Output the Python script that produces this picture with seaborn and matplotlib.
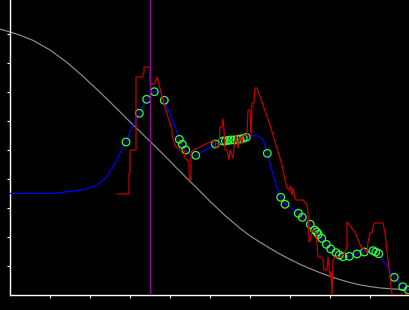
import numpy as np
import pandas as pd
import matplotlib
matplotlib.use("Agg")
import matplotlib.pyplot as plt
import seaborn as sns

# Gray reference curve
ref_x = [-0.25, 0, 0.25, 0.575, 1.0, 1.425, 1.825, 2.25, 2.675, 3.075, 3.5, 3.875, 4.2,
         4.625, 5.0, 5.375, 5.75, 6.0, 6.25, 6.5, 6.75, 7.0, 7.25, 7.5, 7.75, 8.0,
         8.25, 8.5, 8.75, 9.0, 9.25, 9.5, 9.75, 10.0]
ref_y = [9.17, 9.07, 8.96, 8.78, 8.45, 8.02, 7.54, 6.99, 6.42, 5.87, 5.30, 4.79, 4.33,
         3.75, 3.23, 2.74, 2.30, 2.04, 1.82, 1.61, 1.41, 1.23, 1.06, 0.91, 0.77, 0.64,
         0.53, 0.43, 0.35, 0.29, 0.245, 0.215, 0.195, 0.18]

# Blue fitted curve
fit_x = [0, 1.125, 1.4175, 1.6675, 1.875, 2.0425, 2.1675, 2.2925, 2.4175, 2.5, 2.5875, 2.6675,
         2.75, 2.8325, 2.9, 3.0, 3.125,
         3.2325, 3.4175, 3.5, 3.6075, 3.7, 3.775, 3.8575, 4.0, 4.125, 4.2325, 4.3075, 4.3925,
         4.475, 4.55, 4.6425, 4.875, 5.1325, 5.3175, 5.3825, 5.4575, 5.525, 5.6, 5.6825, 5.75,
         5.8325, 5.9075, 6.025, 6.15, 6.25, 6.3325, 6.4325, 6.5425, 6.65, 6.7675, 6.875, 7.025,
         7.2075, 7.3075, 7.4, 7.5075, 7.6175, 7.6675, 7.7075, 7.7925, 7.9075, 8.0175, 8.15,
         8.2325, 8.325, 8.4825, 8.675, 8.8575, 9.075, 9.1425, 9.2175, 9.4, 9.6075, 9.8175,
         9.9575, 10.05]
fit_y = [3.500, 3.507, 3.562, 3.597, 3.645, 3.714, 3.793, 3.907, 4.079, 4.252, 4.448, 4.655,
         4.879, 5.114, 5.276, 5.631, 5.976,
         6.266, 6.748, 6.931, 7.010, 7.034, 6.931, 6.714, 6.241, 5.793, 5.369,
         5.197, 5.0, 4.862, 4.793, 4.817, 5.0, 5.207, 5.310, 5.310, 5.334, 5.345, 5.345, 5.369,
         5.379, 5.403, 5.438, 5.5, 5.493, 5.448, 5.345, 4.886, 4.310, 3.793, 3.369, 3.128, 3.0,
         2.817, 2.679, 2.552, 2.438, 2.241, 2.172, 2.093, 1.955, 1.748, 1.586, 1.459, 1.379,
         1.321, 1.334, 1.414, 1.483, 1.528, 1.483, 1.424, 1.034, 0.610, 0.286, 0.172, 0.103]

# Green observation points
obs_x = [2.9, 3.2325, 3.4175, 3.6075, 3.8575, 4.2325, 4.3075, 4.3925, 4.6425, 5.1325, 5.3175,
         5.3825, 5.4575, 5.525, 5.6, 5.6825, 5.75, 5.8325, 5.9075, 6.4325, 6.7675, 6.875,
         7.2075, 7.3075, 7.5075, 7.6175, 7.6675, 7.7075, 7.7925, 7.9075, 8.0175, 8.15, 8.2325,
         8.325, 8.4825, 8.675, 8.8575, 9.075, 9.1425, 9.2175, 9.6075, 9.8175, 9.9575]
obs_y = [5.276, 6.266, 6.748, 7.010, 6.714, 5.369, 5.197, 5.0, 4.817, 5.207, 5.310, 5.310,
         5.334, 5.345, 5.345, 5.369, 5.379, 5.403, 5.438, 4.886, 3.369, 3.128, 2.817, 2.679,
         2.438, 2.241, 2.172, 2.093, 1.955, 1.748, 1.586, 1.459, 1.379, 1.321, 1.334, 1.414,
         1.483, 1.528, 1.483, 1.424, 0.610, 0.286, 0.172]

# Red raw step series
raw_x = [2.675, 2.975, 2.975, 3.0, 3.0, 3.15, 3.15, 3.325, 3.325, 3.35, 3.35, 3.5, 3.5, 3.625,
         3.675, 3.825, 3.95, 4.05, 4.05, 4.125, 4.25, 4.35, 4.375, 4.475, 4.475, 4.5, 4.525,
         4.525, 4.55, 5.05, 5.125, 5.15, 5.225, 5.25, 5.3, 5.325, 5.35, 5.375, 5.425, 5.475,
         5.5, 5.575, 5.6, 5.65, 5.7, 5.75, 5.8, 5.825, 5.925, 5.95, 6.0, 6.025, 6.05, 6.1,
         6.125, 6.175, 6.5, 6.8, 6.875, 6.925, 6.975, 7.0, 7.05, 7.075, 7.125, 7.15, 7.325,
         7.425, 7.45, 7.475, 7.5, 7.55, 7.65, 7.7, 7.775, 7.825, 7.85, 7.925, 7.95, 8.0,
         8.025, 8.05, 8.075, 8.125, 8.25, 8.375, 8.425, 8.425, 8.625, 8.775, 8.875, 8.925,
         8.95, 9.0, 9.05, 9.1, 9.325, 9.375, 9.5, 9.55, 10.0]
raw_y = [3.483, 3.483, 4.207, 4.207, 5.0, 5.0, 7.517, 7.517, 7.655, 7.655, 7.862, 7.862,
         7.276, 7.276, 7.517, 6.724, 6.138, 5.690, 5.517, 5.138, 5.0, 5.0, 4.724, 4.586,
         4.310, 3.966, 3.966, 4.931, 4.966, 5.310, 5.310, 5.103, 5.103, 5.793, 5.793, 6.069,
         5.690, 5.0, 5.0, 4.655, 5.0, 4.724, 5.103, 5.517, 5.069, 5.448, 5.207, 5.517, 5.517,
         6.379, 6.379, 5.483, 6.621, 6.621, 7.138, 7.138, 5.862, 4.483, 3.966, 3.690, 3.621,
         3.759, 3.448, 3.690, 3.345, 3.276, 3.276, 3.103, 2.828, 1.828, 1.862, 2.241, 2.138,
         1.310, 1.310, 1.207, 0.862, 0.862, 1.310, 0.621, 0.793, 0.0, 1.207, 1.310, 1.310,
         1.448, 1.690, 2.517, 2.172, 1.655, 1.552, 1.448, 1.828, 2.138, 2.138, 2.483, 2.483,
         2.138, 0.621, 0.0, 0.0]

marker_x = 3.5

x_ticks = [1, 2, 3, 4, 5, 6, 7, 8, 9]
y_ticks = [1, 2, 3, 4, 5, 6, 7, 8, 9]

sns.set_style("dark")
plt.rcParams["font.family"] = ["DejaVu Sans"]

W, H = 410, 310
fig = plt.figure(figsize=(W / 100, H / 100), dpi=100, facecolor="black")
ax = fig.add_axes([10 / W, 15 / H, 400 / W, 295 / H])
ax.set_facecolor("black")

lw = 0.85
sns.lineplot(x=ref_x, y=ref_y, ax=ax, sort=False, estimator=None, color="#8f8f8f",
             linewidth=lw, clip_on=False, zorder=2)
sns.lineplot(x=fit_x, y=fit_y, ax=ax, sort=False, estimator=None, color="#0000ff",
             linewidth=lw, zorder=3)
sns.scatterplot(x=obs_x, y=obs_y, ax=ax, marker="o", s=30, facecolor="none",
                edgecolor="#33ff33", linewidth=0.9, zorder=4)
sns.lineplot(x=raw_x, y=raw_y, ax=ax, sort=False, estimator=None, color="#cc0000",
             linewidth=lw, zorder=5)
ax.axvline(marker_x, color="#9a009a", linewidth=lw, zorder=6)

ax.set_xlim(0, 10)
ax.set_ylim(0, 295 / 29)
ax.set_xticks(x_ticks)
ax.set_yticks(y_ticks)
ax.set_xticklabels([])
ax.set_yticklabels([])
ax.set_xlabel("")
ax.set_ylabel("")
ax.grid(False)
ax.tick_params(axis="both", direction="out", length=2.5, width=0.8, color="white",
               bottom=True, left=True)
for side in ["top", "right"]:
    ax.spines[side].set_visible(False)
for side in ["left", "bottom"]:
    ax.spines[side].set_visible(True)
    ax.spines[side].set_color("white")
    ax.spines[side].set_linewidth(1.0)

fig.savefig("out.png", dpi=100, facecolor="black")
